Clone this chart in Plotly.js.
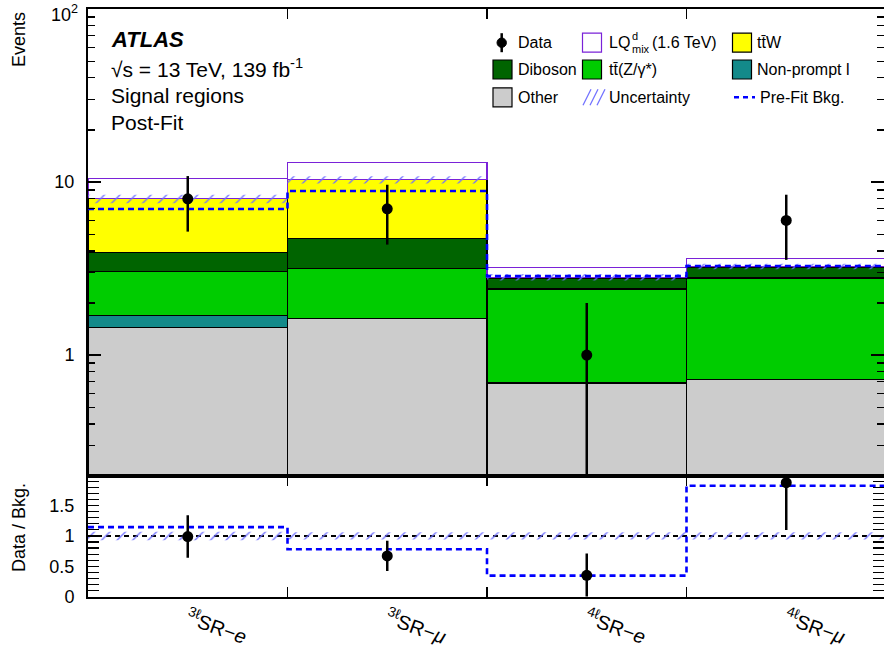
<!DOCTYPE html>
<html><head><meta charset="utf-8">
<script src="https://cdn.plot.ly/plotly-3.0.1.min.js"></script>
<style>html,body{margin:0;padding:0;overflow:hidden;background:#fff}#chart{width:884px;height:655px}</style>
</head><body><div id="chart"></div>
<script>
// ---------- data ----------
const categories = ['<sup>3ℓ</sup>SR−<i>e</i>', '<sup>3ℓ</sup>SR−<i>μ</i>', '<sup>4ℓ</sup>SR−<i>e</i>', '<sup>4ℓ</sup>SR−<i>μ</i>'];
const other     = [1.45, 1.62, 0.69, 0.72];
const nonPrompt = [0.24, null, null, null];
const ttZ       = [1.34, 1.55, 1.72, 2.07];
const diboson   = [0.87, 1.53, 0.36, 0.42];
const ttW       = [4.10, 5.60, 0.05, 0.04];
const lqSignal  = [2.45, 2.70, 0.39, 0.35];
const bkgUnc    = [0.45, 0.50, 0.12, 0.12];
const preFitBkg = [6.98, 8.87, 2.86, 3.27];
const dataCounts  = [8, 7, 1, 6];
const dataErrUp   = [2.83, 2.65, 1.00, 2.45];
const dataErrDown = [2.83, 2.65, 1.00, 2.45];
const ratioData   = [0.99, 0.67, 0.35, 1.88];
const ratioErr    = [0.35, 0.25, 0.36, 0.78];
const ratioPreFit = [1.145, 0.78, 0.345, 1.83];
const ratioUnc    = [0.07, 0.06, 0.06, 0.06];
const mainTickVals = [1, 10];
const mainTickText = ['1', '10'];
const mainTopVal = 100;
const mainTopLabel = '10<sup>2</sup>';
const ratioTickVals = [0, 0.5, 1, 1.5];
const ratioTickText = ['0', '0.5', '1', '1.5'];

// ---------- helpers ----------
const W = 884, H = 655, ML = 88;
const px = x => (x - ML) / (W - ML);
const py = y => 1 - y / H;
const n = categories.length;
const centers = categories.map((_, i) => i + 0.5);
const edges = categories.map((_, i) => i).concat([n]);
const xMax = (W - ML) / 199.5;
const FONT = '"Liberation Sans", Arial, Helvetica, sans-serif';

const totalBkg = categories.map((_, i) =>
  [other, nonPrompt, ttZ, diboson, ttW].reduce((s, a) => s + (a[i] || 0), 0));

function bar(name, y, color, lineColor) {
  return {type: 'bar', name, x: centers, y, width: 1, xaxis: 'x', yaxis: 'y',
    marker: {color, line: {color: lineColor || '#000', width: 1.3}},
    hoverinfo: 'skip', showlegend: false};
}

function bandTrace(center, half, xa, ya) {
  const xs = [], ys = [];
  center.forEach((c, i) => {
    const lo = c - half[i], hi = c + half[i];
    xs.push(edges[i], edges[i + 1], edges[i + 1], edges[i], edges[i], null);
    ys.push(lo, lo, hi, hi, lo, null);
  });
  return {type: 'scatter', mode: 'lines', x: xs, y: ys, xaxis: xa, yaxis: ya,
    fill: 'toself', fillcolor: 'rgba(0,0,0,0)', line: {width: 0},
    fillpattern: {shape: '/', fgcolor: '#6f6fff', bgcolor: 'rgba(0,0,0,0)', size: 11, solidity: 0.12},
    hoverinfo: 'skip', showlegend: false};
}

function stepTrace(vals, xa, ya) {
  return {type: 'scatter', mode: 'lines', x: edges, y: vals.concat([vals[vals.length - 1]]),
    xaxis: xa, yaxis: ya, line: {shape: 'hv', color: '#0000ff', width: 2.6, dash: '6px,4px'},
    hoverinfo: 'skip', showlegend: false};
}

function dataTrace(y, up, down, xa, ya) {
  return {type: 'scatter', mode: 'markers', x: centers, y, xaxis: xa, yaxis: ya,
    marker: {color: '#000', size: 11},
    error_y: {type: 'data', symmetric: false, array: up, arrayminus: down, color: '#000', thickness: 2.5, width: 0},
    hoverinfo: 'skip', showlegend: false};
}

const traces = [
  bar('Other', other, '#cccccc'),
  bar('Non-prompt l', nonPrompt, '#138a8a'),
  bar('ttZ', ttZ, '#00cc00'),
  bar('Diboson', diboson, '#006400'),
  bar('ttW', ttW, '#ffff00'),
  bar('LQ', lqSignal, '#ffffff', '#7a22d8'),
  bandTrace(totalBkg, bkgUnc, 'x', 'y'),
  stepTrace(preFitBkg, 'x', 'y'),
  dataTrace(dataCounts, dataErrUp, dataErrDown, 'x', 'y'),
  bandTrace(ratioData.map(() => 1), ratioUnc, 'x2', 'y2'),
  stepTrace(ratioPreFit, 'x2', 'y2'),
  dataTrace(ratioData, ratioErr, ratioErr, 'x2', 'y2'),
  {type: 'scatter', mode: 'markers', x: centers, y: ratioData, xaxis: 'x3', yaxis: 'y2',
   marker: {opacity: 0}, hoverinfo: 'skip', showlegend: false}
];

const logMinor = [];
[0.1, 1, 10].forEach(d => { for (let k = 2; k <= 9; k++) if (k * d >= 0.2) logMinor.push(k * d); });

const axisCommon = {showgrid: false, zeroline: false, showline: true, linecolor: '#000', linewidth: 2,
  mirror: 'allticks', ticks: 'inside', tickcolor: '#000', tickwidth: 1.3, ticklabeloverflow: 'allow'};

const layout = {
  width: W, height: H, margin: {l: ML, r: 0, t: 0, b: 0}, autosize: false,
  paper_bgcolor: '#fff', plot_bgcolor: 'rgba(0,0,0,0)',
  barmode: 'stack', bargap: 0, showlegend: false,
  font: {family: FONT, color: '#000', size: 18},
  xaxis: Object.assign({}, axisCommon, {domain: [0, 1], anchor: 'y', range: [0, xMax],
    tickmode: 'array', tickvals: edges, ticklen: 10, showticklabels: false}),
  yaxis: Object.assign({}, axisCommon, {domain: [py(476), py(9)], anchor: 'x', type: 'log',
    range: [Math.log10(0.2), 2.0002], tickmode: 'array', tickvals: mainTickVals, ticktext: mainTickText,
    ticklen: 13, ticklabelstandoff: 8, tickfont: {size: 18},
    minor: {tickmode: 'array', tickvals: logMinor, ticks: 'inside', ticklen: 7, tickwidth: 1.2, tickcolor: '#000', showgrid: false}}),
  xaxis2: Object.assign({}, axisCommon, {domain: [0, 1], anchor: 'y2', range: [0, xMax],
    tickmode: 'array', tickvals: edges, ticklen: 10, showticklabels: false}),
  yaxis2: Object.assign({}, axisCommon, {domain: [py(596.5), py(476)], anchor: 'x2',
    range: [0, 1.99], tickmode: 'array', tickvals: ratioTickVals, ticktext: ratioTickText,
    ticklen: 11, ticklabelstandoff: 8, tickfont: {size: 18},
    minor: {dtick: 0.1, tick0: 0, ticks: 'inside', ticklen: 5, tickwidth: 1.2, tickcolor: '#000', showgrid: false}}),
  xaxis3: {overlaying: 'x2', anchor: 'y2', side: 'bottom', range: [0, xMax], showgrid: false, zeroline: false,
    showline: false, ticks: '', tickmode: 'array', tickvals: centers, ticktext: categories,
    tickangle: 20, ticklabelstandoff: 6, ticklabeloverflow: 'allow', tickfont: {size: 20}},
  shapes: [],
  annotations: []
};

// reference line at 1 in ratio panel
layout.shapes.push({type: 'line', xref: 'x2', yref: 'y2', x0: 0, x1: xMax, y0: 1, y1: 1,
  line: {color: '#000', width: 2, dash: '5px,4px'}, layer: 'below'});

// top tick label of the log axis, placed at the value 100 on the axis scale
layout.annotations.push({text: mainTopLabel, xref: 'paper', yref: 'y', x: px(80), y: Math.log10(mainTopVal),
  xanchor: 'right', yanchor: 'middle', yshift: -4, showarrow: false, font: {family: FONT, size: 18, color: '#000'}});

// ---------- text ----------
function ann(text, x, y, opts) {
  layout.annotations.push(Object.assign({text, xref: 'paper', yref: 'paper', x: px(x), y: py(y),
    xanchor: 'left', yanchor: 'middle', showarrow: false, font: {family: FONT, size: 21, color: '#000'}}, opts || {}));
}
ann('<b><i>ATLAS</i></b>', 109, 40, {font: {family: FONT, size: 22, color: '#000'}});
ann('√s = 13 TeV, 139 fb<sup>-1</sup>', 109, 68);
ann('Signal regions', 109, 96);
ann('Post-Fit', 109, 122);
ann('Events', 19, 40, {xanchor: 'center', textangle: -90, font: {family: FONT, size: 18, color: '#000'}});
ann('Data / Bkg.', 19, 528, {xanchor: 'center', textangle: -90, font: {family: FONT, size: 18, color: '#000'}});

// ---------- legend (drawn) ----------
const LF = {family: FONT, size: 16, color: '#000'};
function box(x0, yc, fill, line) {
  layout.shapes.push({type: 'rect', xref: 'paper', yref: 'paper', x0: px(x0), x1: px(x0 + 19),
    y0: py(yc + 9.5), y1: py(yc - 9.5), fillcolor: fill, line: {color: line || '#000', width: 1.2}});
}
const rows = [42.7, 69.5, 97.3];
// Data
layout.shapes.push({type: 'line', xref: 'paper', yref: 'paper', x0: px(501.7), x1: px(501.7),
  y0: py(rows[0] - 9.5), y1: py(rows[0] + 9.5), line: {color: '#000', width: 2.5}});
layout.shapes.push({type: 'circle', xref: 'paper', yref: 'paper', x0: px(497), x1: px(506.4),
  y0: py(rows[0] + 4.7), y1: py(rows[0] - 4.7), fillcolor: '#000', line: {color: '#000', width: 1}});
ann('Data', 516, rows[0], {font: LF});
box(582.5, rows[0], '#ffffff', '#7a22d8');
ann('LQ', 607, rows[0], {font: LF});
ann('d', 630, rows[0] - 7, {font: {family: FONT, size: 11, color: '#000'}});
ann('mix', 630, rows[0] + 6, {font: {family: FONT, size: 11, color: '#000'}});
ann('(1.6 TeV)', 650, rows[0], {font: LF});
box(732.5, rows[0], '#ffff00');
ann('tt̄W', 755, rows[0], {font: LF});
box(493, rows[1], '#006400');
ann('Diboson', 516, rows[1], {font: LF});
box(582.5, rows[1], '#00cc00');
ann('tt̄(Z/γ*)', 607, rows[1], {font: LF});
box(732.5, rows[1], '#138a8a');
ann('Non-prompt l', 755, rows[1], {font: LF});
box(493, rows[2], '#cccccc');
ann('Other', 516, rows[2], {font: LF});
[0, 7, 14].forEach(d => layout.shapes.push({type: 'line', xref: 'paper', yref: 'paper',
  x0: px(583 + d), x1: px(591 + d), y0: py(rows[2] + 8), y1: py(rows[2] - 8),
  line: {color: '#7070ff', width: 1.2}}));
ann('Uncertainty', 607, rows[2], {font: LF});
layout.shapes.push({type: 'line', xref: 'paper', yref: 'paper', x0: px(734), x1: px(755),
  y0: py(rows[2]), y1: py(rows[2]), line: {color: '#0000ff', width: 2.5, dash: '5px,4px'}});
ann('Pre-Fit Bkg.', 758, rows[2], {font: LF});

Plotly.newPlot('chart', traces, layout, {staticPlot: true, displayModeBar: false});
</script>
</body></html>
